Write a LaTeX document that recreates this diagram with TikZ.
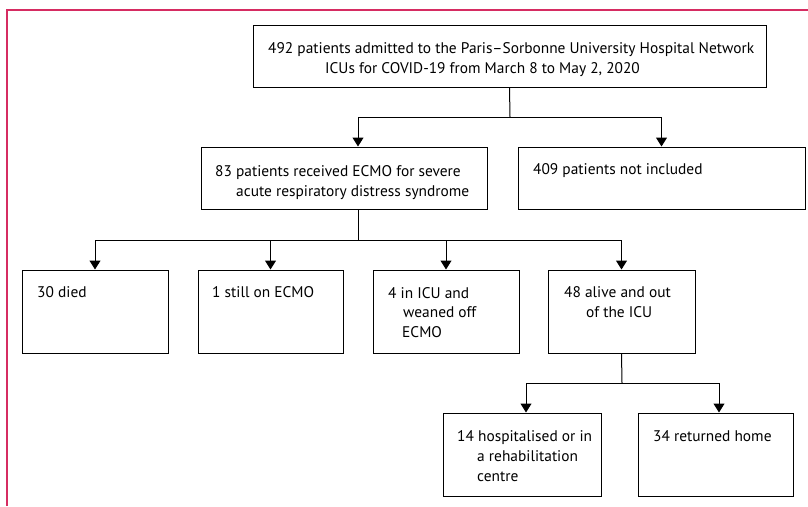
\documentclass[tikz,border=0pt]{standalone}
\usepackage{fontspec}
\setmainfont{PT Sans}
\usetikzlibrary{arrows.meta,calc}
\definecolor{frame}{RGB}{214,44,98}
\begin{document}
\begin{tikzpicture}[x=1pt,y=-1pt,
  box/.style={draw=black,line width=1pt,rectangle,inner sep=0pt},
  txt/.style={anchor=base west,inner sep=0pt,font=\fontsize{15.4}{17}\selectfont},
  arr/.style={line width=1pt,-{Triangle[width=11pt,length=9pt]}},
  ln/.style={line width=1pt}]
\useasboundingbox (0,0) rectangle (808,506);
\fill[white] (0,0) rectangle (808,506);
\draw[frame,line width=1.4pt] (7,506) -- (7,10) -- (808,10);
% boxes
\node[box,minimum width=513pt,minimum height=62pt] (top) at (509.5,56) {};
\node[box,minimum width=286pt,minimum height=62pt] (ecmo) at (344,178) {};
\node[box,minimum width=287pt,minimum height=62pt] (notinc) at (661.5,178) {};
\node[box,minimum width=146pt,minimum height=83pt] (died) at (95,311.5) {};
\node[box,minimum width=145pt,minimum height=83pt] (still) at (270.5,311.5) {};
\node[box,minimum width=146pt,minimum height=83pt] (weaned) at (446,311.5) {};
\node[box,minimum width=147pt,minimum height=83pt] (alive) at (621.5,311.5) {};
\node[box,minimum width=158pt,minimum height=83pt] (hosp) at (522,454.5) {};
\node[box,minimum width=155pt,minimum height=83pt] (home) at (715.5,454.5) {};
% texts
\node[txt] (t1) at (268,53) {492 patients admitted to the Paris–Sorbonne University Hospital Network};
\node[txt] (t2) at (325,73) {ICUs for COVID-19 from March 8 to May 2, 2020};
\node[txt] (t3) at (215,176) {83 patients received ECMO for severe};
\node[txt] (t4) at (236,196) {acute respiratory distress syndrome};
\node[txt] (t5) at (533,174) {409 patients not included};
\node[txt] (t6) at (37,297) {30 died};
\node[txt] (t7) at (212,297) {1 still on ECMO};
\node[txt] (t8) at (388,298) {4 in ICU and};
\node[txt] (t9) at (403,317) {weaned off};
\node[txt] (t10) at (402,337) {ECMO};
\node[txt] (t11) at (564,297) {48 alive and out};
\node[txt] (t12) at (586,317) {of the ICU};
\node[txt] (t13) at (457,441) {14 hospitalised or in};
\node[txt] (t14) at (477,461) {a rehabilitation};
\node[txt] (t15) at (477,481) {centre};
\node[txt] (t16) at (653,441) {34 returned home};
% connectors
\coordinate (j1) at (510,117);
\coordinate (j2) at (358,240);
\coordinate (j3) at (622,383);
\draw[ln] (top.south) -- (j1);
\draw[arr] (j1) -| ([xshift=14pt]ecmo.north);
\draw[arr] (j1) -| (notinc.north);
\draw[ln] ([xshift=14pt]ecmo.south) -- (j2);
\draw[arr] (j2) -| (died.north);
\draw[arr] (j2) -| (still.north);
\draw[arr] (j2) -| (weaned.north);
\draw[arr] (j2) -| (alive.north);
\draw[ln] (alive.south) -- (j3);
\draw[arr] (j3) -| ([xshift=4pt]hosp.north);
\draw[arr] (j3) -| ([xshift=3.5pt]home.north);
\end{tikzpicture}
\end{document}
